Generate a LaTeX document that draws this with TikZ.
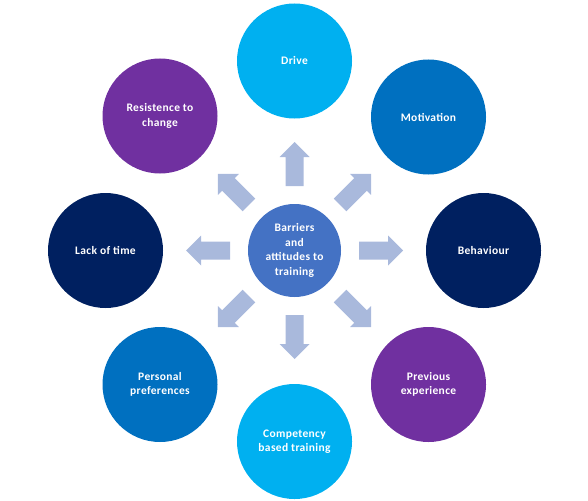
\documentclass[tikz,border=0pt]{standalone}
\usepackage{fontspec}
\setmainfont{Carlito}[LetterSpace=3]
\definecolor{cDrive}{HTML}{00B0F0}
\definecolor{cMid}{HTML}{0070C0}
\definecolor{cDark}{HTML}{002060}
\definecolor{cPurple}{HTML}{7030A0}
\definecolor{cCenter}{HTML}{4472C4}
\definecolor{cArrow}{HTML}{A9B9DC}
\tikzset{
  outer/.style={circle, minimum size=115pt, inner sep=0pt, fill=#1, text=white,
    font=\fontsize{11.5}{14.5}\selectfont\bfseries, align=center},
  hub/.style={circle, minimum size=93pt, inner sep=0pt, fill=cCenter, text=white,
    font=\fontsize{11.5}{14.5}\selectfont\bfseries, align=center},
  blockarrow/.style={fill=cArrow, draw=none}
}
\begin{document}
\begin{tikzpicture}[x=1pt,y=-1pt]
\useasboundingbox (0,0) rectangle (588,500);
\coordinate (c) at (294.5,250.5);
\foreach \a in {0,45,...,315}{
  \fill[blockarrow, shift={(c)}, rotate=\a]
    (64.5,-9) -- (93.5,-9) -- (93.5,-15) -- (108.5,0) -- (93.5,15) -- (93.5,9) -- (64.5,9) -- cycle;
}
\node[hub] (hub) at (c) {Barriers\\and\\attitudes to\\training};
\node[outer=cDrive] (drive) at (294.5,61) {Drive};
\node[outer=cMid] (motivation) at (428.5,117) {Motivation};
\node[outer=cDark] (behaviour) at (483.5,250.5) {Behaviour};
\node[outer=cPurple] (previous) at (428.5,384.5) {Previous\\experience};
\node[outer=cDrive] (competency) at (294.5,441.5) {Competency\\based training};
\node[outer=cMid] (personal) at (160,384.5) {Personal\\preferences};
\node[outer=cDark] (lack) at (105.5,250.5) {Lack of time};
\node[outer=cPurple] (resist) at (160,116) {Resistence to\\change};
\end{tikzpicture}
\end{document}
